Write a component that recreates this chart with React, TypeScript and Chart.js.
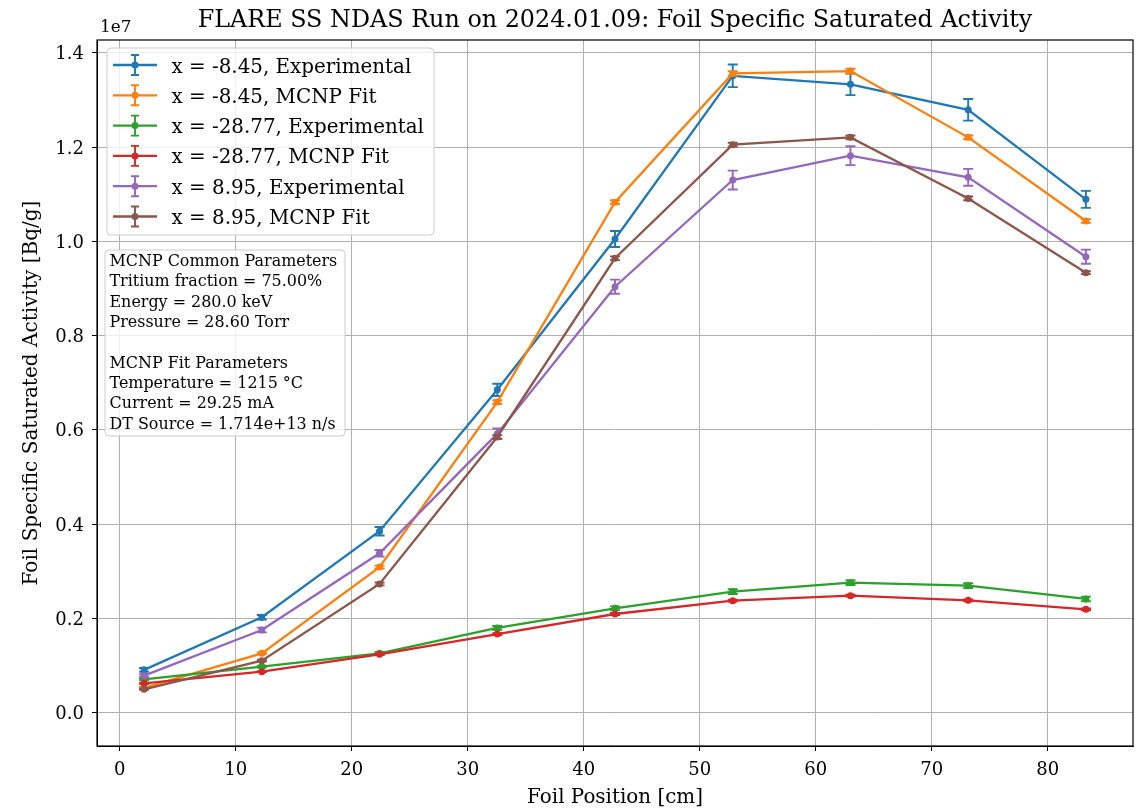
import React, { useEffect, useRef } from "react";
import { Chart, registerables } from "chart.js";

Chart.register(...registerables);

// Foil positions [cm]
const positions = [2.1, 12.25, 22.4, 32.55, 42.7, 52.85, 63.0, 73.15, 83.3];

// Values in units of 1e7 Bq/g
const expM845 = [0.091, 0.2025, 0.385, 0.685, 1.005, 1.351, 1.333, 1.279, 1.089];
const expM845Err = [0.004, 0.005, 0.009, 0.013, 0.017, 0.024, 0.023, 0.023, 0.018];
const fitM845 = [0.053, 0.126, 0.309, 0.659, 1.083, 1.356, 1.361, 1.2205, 1.043];
const fitM845Err = [0.002, 0.002, 0.003, 0.004, 0.004, 0.005, 0.005, 0.004, 0.004];
const expM2877 = [0.071, 0.098, 0.126, 0.18, 0.2216, 0.2569, 0.276, 0.2696, 0.2414];
const expM2877Err = [0.002, 0.002, 0.003, 0.004, 0.004, 0.005, 0.005, 0.005, 0.005];
const fitM2877 = [0.0625, 0.0872, 0.124, 0.167, 0.2095, 0.2378, 0.2484, 0.2386, 0.2195];
const fitM2877Err = [0.001, 0.001, 0.001, 0.002, 0.002, 0.002, 0.002, 0.002, 0.002];
const exp895 = [0.0787, 0.1756, 0.3383, 0.592, 0.9037, 1.13, 1.1816, 1.1357, 0.9674];
const exp895Err = [0.003, 0.005, 0.007, 0.011, 0.015, 0.02, 0.02, 0.018, 0.015];
const fit895 = [0.0498, 0.1105, 0.2732, 0.585, 0.964, 1.205, 1.2205, 1.091, 0.9334];
const fit895Err = [0.001, 0.002, 0.003, 0.004, 0.004, 0.004, 0.004, 0.004, 0.003];

const seriesLabels = [
  "x = -8.45, Experimental",
  "x = -8.45, MCNP Fit",
  "x = -28.77, Experimental",
  "x = -28.77, MCNP Fit",
  "x = 8.95, Experimental",
  "x = 8.95, MCNP Fit",
];
const seriesColors = ["#1f77b4", "#ff7f0e", "#2ca02c", "#d62728", "#9467bd", "#8c564b"];

const titleText = "FLARE SS NDAS Run on 2024.01.09: Foil Specific Saturated Activity";
const xTitle = "Foil Position [cm]";
const yTitle = "Foil Specific Saturated Activity [Bq/g]";
const offsetText = "1e7";
const paramLines = [
  "MCNP Common Parameters",
  "Tritium fraction = 75.00%",
  "Energy = 280.0 keV",
  "Pressure = 28.60 Torr",
  "",
  "MCNP Fit Parameters",
  "Temperature = 1215 \u00b0C",
  "Current = 29.25 mA",
  "DT Source = 1.714e+13 n/s",
];

const FONT = '"DejaVu Serif", serif';

function fitSize(ctx: CanvasRenderingContext2D, text: string, width: number): number {
  ctx.font = `100px ${FONT}`;
  const w = ctx.measureText(text).width;
  return (100 * width) / w;
}

function roundRect(ctx: CanvasRenderingContext2D, x: number, y: number, w: number, h: number, r: number) {
  ctx.beginPath();
  ctx.moveTo(x + r, y);
  ctx.lineTo(x + w - r, y);
  ctx.quadraticCurveTo(x + w, y, x + w, y + r);
  ctx.lineTo(x + w, y + h - r);
  ctx.quadraticCurveTo(x + w, y + h, x + w - r, y + h);
  ctx.lineTo(x + r, y + h);
  ctx.quadraticCurveTo(x, y + h, x, y + h - r);
  ctx.lineTo(x, y + r);
  ctx.quadraticCurveTo(x, y, x + r, y);
  ctx.closePath();
}

export default function App() {
  const ref = useRef<HTMLCanvasElement>(null);

  useEffect(() => {
    document.body.style.margin = "0";
    const canvas = ref.current;
    if (!canvas) return;

    const values = [expM845, fitM845, expM2877, fitM2877, exp895, fit895];
    const errors = [expM845Err, fitM845Err, expM2877Err, fitM2877Err, exp895Err, fit895Err];

    const errorBarPlugin = {
      id: "errorBars",
      beforeDatasetDraw(chart: any, args: any) {
        const i = args.index;
        const meta = args.meta;
        const ys = chart.scales.y;
        const ctx = chart.ctx;
        ctx.save();
        ctx.strokeStyle = seriesColors[i];
        ctx.lineWidth = 1.9;
        meta.data.forEach((pt: any, j: number) => {
          const v = values[i][j];
          const e = errors[i][j];
          const y1 = ys.getPixelForValue(v + e);
          const y2 = ys.getPixelForValue(v - e);
          const x = pt.x;
          ctx.beginPath();
          ctx.moveTo(x, y1);
          ctx.lineTo(x, y2);
          ctx.moveTo(x - 5, y1);
          ctx.lineTo(x + 5, y1);
          ctx.moveTo(x - 5, y2);
          ctx.lineTo(x + 5, y2);
          ctx.stroke();
        });
        ctx.restore();
      },
    };

    const decorPlugin = {
      id: "decor",
      afterDraw(chart: any) {
        const ctx: CanvasRenderingContext2D = chart.ctx;
        const { left, right, top, bottom } = chart.chartArea;
        const xs = chart.scales.x;
        const ys = chart.scales.y;
        ctx.save();

        // frame
        ctx.strokeStyle = "#000";
        ctx.lineWidth = 1.2;
        ctx.strokeRect(left, top, right - left, bottom - top);

        ctx.fillStyle = "#000";
        // tick labels
        const tickSize = 18;
        ctx.font = `${tickSize}px ${FONT}`;
        ctx.textAlign = "right";
        ctx.textBaseline = "alphabetic";
        ys.ticks.forEach((t: any) => {
          const y = ys.getPixelForValue(t.value);
          ctx.fillText(Number(t.value).toFixed(1), left - 13, y + 6.6);
        });
        ctx.textAlign = "center";
        xs.ticks.forEach((t: any) => {
          const x = xs.getPixelForValue(t.value);
          ctx.fillText(String(Math.round(t.value)), x, bottom + 29);
        });

        // offset text
        let s = fitSize(ctx, offsetText, 31.5);
        ctx.font = `${s}px ${FONT}`;
        ctx.textAlign = "left";
        ctx.fillText(offsetText, left + 3, 31.5);

        // title
        s = fitSize(ctx, titleText, 835);
        ctx.font = `${s}px ${FONT}`;
        ctx.textAlign = "center";
        ctx.fillText(titleText, (left + right) / 2, 27);

        // axis titles
        s = fitSize(ctx, xTitle, 176);
        ctx.font = `${s}px ${FONT}`;
        ctx.fillText(xTitle, (left + right) / 2, 803);

        s = fitSize(ctx, yTitle, 385);
        ctx.font = `${s}px ${FONT}`;
        ctx.save();
        ctx.translate(37, (top + bottom) / 2);
        ctx.rotate(-Math.PI / 2);
        ctx.fillText(yTitle, 0, 0);
        ctx.restore();

        // legend
        ctx.fillStyle = "rgba(255,255,255,0.8)";
        ctx.strokeStyle = "#cccccc";
        ctx.lineWidth = 1;
        roundRect(ctx, 107, 48, 327, 187, 4);
        ctx.fill();
        ctx.stroke();
        const ls = fitSize(ctx, seriesLabels[0], 240);
        seriesLabels.forEach((lab, i) => {
          const y = 65 + i * 30.3;
          const c = seriesColors[i];
          ctx.strokeStyle = c;
          ctx.fillStyle = c;
          ctx.lineWidth = 2.3;
          ctx.beginPath();
          ctx.moveTo(113, y);
          ctx.lineTo(157, y);
          ctx.stroke();
          ctx.lineWidth = 1.9;
          ctx.beginPath();
          ctx.moveTo(135, y - 10);
          ctx.lineTo(135, y + 10);
          ctx.moveTo(131, y - 10);
          ctx.lineTo(139, y - 10);
          ctx.moveTo(131, y + 10);
          ctx.lineTo(139, y + 10);
          ctx.stroke();
          ctx.beginPath();
          ctx.arc(135, y, 3.5, 0, Math.PI * 2);
          ctx.fill();
          ctx.fillStyle = "#000";
          ctx.font = `${ls}px ${FONT}`;
          ctx.textAlign = "left";
          ctx.fillText(lab, 171.5, y + 7.5);
        });

        // parameter box
        ctx.fillStyle = "rgba(255,255,255,0.8)";
        ctx.strokeStyle = "#cccccc";
        ctx.lineWidth = 1;
        roundRect(ctx, 105, 250, 240, 186, 4);
        ctx.fill();
        ctx.stroke();
        const ps = fitSize(ctx, paramLines[0], 228);
        ctx.font = `${ps}px ${FONT}`;
        ctx.fillStyle = "#000";
        ctx.textAlign = "left";
        paramLines.forEach((ln, k) => {
          if (ln) ctx.fillText(ln, 109.5, 266 + k * 20.33);
        });

        ctx.restore();
      },
    };

    const chart = new Chart(canvas, {
      type: "line",
      data: {
        datasets: seriesLabels.map((label, i) => ({
          label,
          data: positions.map((x, j) => ({ x, y: values[i][j] })),
          borderColor: seriesColors[i],
          backgroundColor: seriesColors[i],
          borderWidth: 2.3,
          pointRadius: 3.5,
          pointBorderWidth: 0,
          pointHoverRadius: 3.5,
          tension: 0,
          fill: false,
          order: 5 - i,
        })),
      },
      options: {
        responsive: false,
        animation: false,
        devicePixelRatio: 1,
        layout: { padding: { left: 0, top: 40, right: 4, bottom: 0 } },
        plugins: {
          legend: { display: false },
          tooltip: { enabled: false },
          title: { display: false },
        },
        scales: {
          x: {
            type: "linear",
            min: -1.96,
            max: 87.36,
            afterFit: (sc: any) => {
              sc.height = 63;
            },
            ticks: { stepSize: 10, includeBounds: false, display: false },
            grid: { color: "#b0b0b0", lineWidth: 1, tickColor: "#000", tickLength: 5 },
            border: { color: "#000", width: 1 },
          },
          y: {
            type: "linear",
            min: -0.0705,
            max: 1.427,
            afterFit: (sc: any) => {
              sc.width = 97;
            },
            ticks: { stepSize: 0.2, includeBounds: false, display: false },
            grid: { color: "#b0b0b0", lineWidth: 1, tickColor: "#000", tickLength: 5 },
            border: { color: "#000", width: 1 },
          },
        },
      },
      plugins: [errorBarPlugin, decorPlugin],
    } as any);

    return () => chart.destroy();
  }, []);

  return (
    <canvas
      ref={ref}
      width={1137}
      height={809}
      style={{ display: "block", width: 1137, height: 809 }}
    />
  );
}
